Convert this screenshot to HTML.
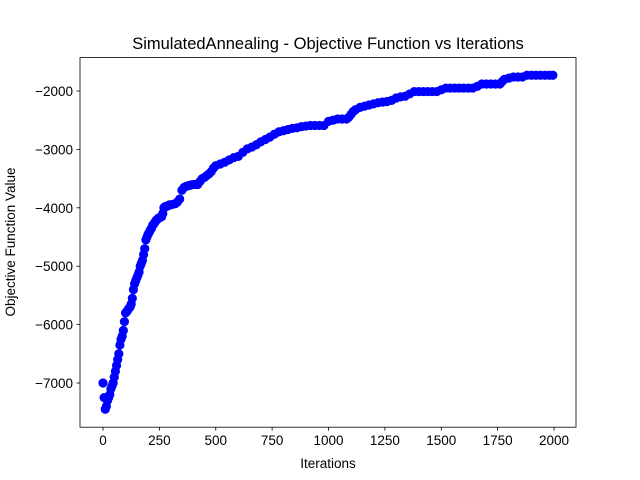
<!DOCTYPE html>
<html><head><meta charset="utf-8"><style>
body{margin:0;background:#fff;}
svg{display:block;font-family:"Liberation Sans","DejaVu Sans",sans-serif;}
</style></head><body>
<svg id="chart" width="640" height="480">
<rect x="0" y="0" width="640" height="480" fill="#fff"/>
<g id="marks"></g>
<g id="xticks"></g>
<g id="yticks"></g>
<rect x="80" y="57.6" width="496" height="369.6" fill="none" stroke="#000" stroke-width="0.8"/>
<text x="328" y="49" text-anchor="middle" font-size="16.5">SimulatedAnnealing - Objective Function vs Iterations</text>
<text x="328" y="468" text-anchor="middle" font-size="13.5">Iterations</text>
<text transform="translate(15,242) rotate(-90)" text-anchor="middle" font-size="13.5">Objective Function Value</text>
</svg>
<script>
const iterations=[0,5,10,15,20,25,30,35,40,45,50,55,60,65,70,75,80,85,90,95,100,105,110,115,120,125,130,135,140,145,150,155,160,165,170,175,180,185,190,195,200,205,210,215,220,225,230,235,240,245,250,255,260,265,270,275,280,285,290,295,300,310,320,330,340,350,360,370,380,390,400,410,420,430,440,450,460,470,480,490,500,520,540,560,580,600,620,640,660,680,700,720,740,760,780,800,820,840,860,880,900,920,940,960,980,1000,1020,1040,1060,1080,1090,1100,1110,1120,1140,1160,1180,1200,1220,1240,1260,1280,1300,1320,1340,1360,1380,1400,1420,1440,1460,1480,1500,1520,1540,1560,1580,1600,1620,1640,1660,1680,1700,1720,1740,1760,1770,1780,1800,1820,1840,1860,1880,1900,1920,1940,1960,1980,1995];
const objective=[-7000,-7250,-7450,-7400,-7300,-7250,-7200,-7100,-7050,-7000,-6900,-6800,-6700,-6600,-6500,-6350,-6250,-6200,-6100,-5950,-5800,-5780,-5750,-5720,-5700,-5650,-5550,-5400,-5300,-5250,-5200,-5150,-5100,-5000,-4950,-4900,-4800,-4700,-4550,-4500,-4450,-4420,-4380,-4350,-4300,-4280,-4250,-4220,-4200,-4180,-4170,-4160,-4150,-4100,-4000,-3980,-3980,-3970,-3960,-3950,-3950,-3940,-3930,-3900,-3850,-3700,-3650,-3630,-3620,-3610,-3600,-3600,-3600,-3550,-3500,-3480,-3450,-3420,-3380,-3320,-3280,-3250,-3220,-3180,-3140,-3120,-3050,-2990,-2960,-2920,-2870,-2830,-2790,-2740,-2700,-2680,-2660,-2640,-2630,-2610,-2600,-2590,-2590,-2590,-2590,-2520,-2500,-2480,-2480,-2480,-2450,-2400,-2350,-2320,-2280,-2260,-2240,-2220,-2200,-2190,-2180,-2160,-2120,-2100,-2090,-2050,-2010,-2010,-2010,-2010,-2010,-2010,-1980,-1950,-1950,-1950,-1950,-1950,-1950,-1950,-1920,-1880,-1880,-1880,-1880,-1880,-1840,-1800,-1780,-1760,-1760,-1760,-1730,-1730,-1730,-1730,-1730,-1730,-1730];
const xTickValues=[0,250,500,750,1000,1250,1500,1750,2000];
const yTickValues=[-7000,-6000,-5000,-4000,-3000,-2000];
const NS="http://www.w3.org/2000/svg";
function xs(v){return 103+v*(554-103)/2000;}
function ys(v){return 91+(-2000-v)*(383-91)/5000;}
const marks=document.getElementById('marks');
for(let i=0;i<iterations.length;i++){
  const c=document.createElementNS(NS,'circle');
  c.setAttribute('cx',xs(iterations[i]));c.setAttribute('cy',ys(objective[i]));
  c.setAttribute('r',4.6);c.setAttribute('fill','#0000ff');
  
  
  marks.appendChild(c);
}
const xg=document.getElementById('xticks');
xTickValues.forEach(v=>{
  const l=document.createElementNS(NS,'line');
  l.setAttribute('x1',xs(v));l.setAttribute('x2',xs(v));l.setAttribute('y1',427.2);l.setAttribute('y2',430.7);l.setAttribute('stroke','#000');l.setAttribute('stroke-width','0.8');
  
  
  xg.appendChild(l);
  const t=document.createElementNS(NS,'text');
  t.setAttribute('x',xs(v));t.setAttribute('y',445);t.setAttribute('text-anchor','middle');t.setAttribute('font-size','13.5');
  t.textContent=String(v);
  
  
  xg.appendChild(t);
});
const yg=document.getElementById('yticks');
yTickValues.forEach(v=>{
  const l=document.createElementNS(NS,'line');
  l.setAttribute('x1',76.5);l.setAttribute('x2',80);l.setAttribute('y1',ys(v));l.setAttribute('y2',ys(v));l.setAttribute('stroke','#000');l.setAttribute('stroke-width','0.8');
  
  
  yg.appendChild(l);
  const t=document.createElementNS(NS,'text');
  t.setAttribute('x',73);t.setAttribute('y',ys(v)+5);t.setAttribute('text-anchor','end');t.setAttribute('font-size','13.5');
  t.textContent=String(v).replace('-','\u2212');
  
  
  yg.appendChild(t);
});
</script>
</body></html>
